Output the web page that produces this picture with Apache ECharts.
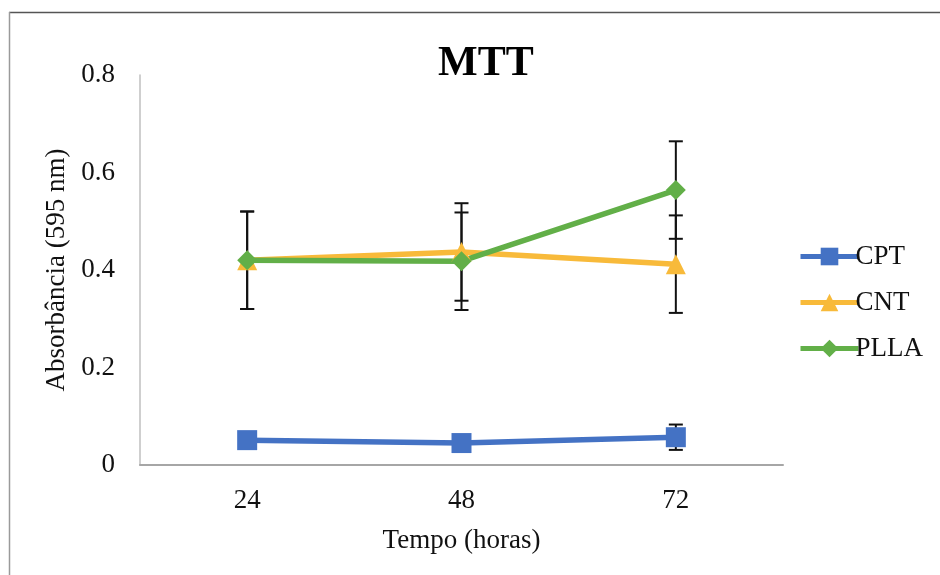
<!DOCTYPE html>
<html>
<head>
<meta charset="utf-8">
<script src="https://cdn.jsdelivr.net/npm/echarts@6/dist/echarts.min.js"></script>
<style>
  html, body { margin: 0; padding: 0; background: #fff; }
  #main { width: 940px; height: 575px; }
</style>
</head>
<body>
<div id="main"></div>
<script>
  // data
  const categories = ['24', '48', '72']
  const cpt = [0.051, 0.045, 0.057]
  const cnt = [0.420, 0.437, 0.412]
  const plla = [0.420, 0.418, 0.564]
  const cptErr = [0.008, 0.008, 0.026]
  const cntErr = [0.100, 0.100, 0.100]
  const pllaErr = [0.100, 0.100, 0.100]

  const font = 'Liberation Serif, Times New Roman, serif'
  const colors = { cpt: '#4472C4', cnt: '#F8BA3A', plla: '#62AF48' }

  function errData(vals, errs) {
    return vals.map((v, i) => [i, v, errs[i]])
  }

  function renderErr(params, api) {
    const i = api.value(0)
    const v = api.value(1)
    const e = api.value(2)
    const top = api.coord([i, v + e])
    const bot = api.coord([i, v - e])
    const cap = 7
    const style = { stroke: '#111', lineWidth: 2 }
    return {
      type: 'group',
      children: [
        { type: 'line', shape: { x1: top[0], y1: top[1], x2: bot[0], y2: bot[1] }, style },
        { type: 'line', shape: { x1: top[0] - cap, y1: top[1], x2: top[0] + cap, y2: top[1] }, style },
        { type: 'line', shape: { x1: bot[0] - cap, y1: bot[1], x2: bot[0] + cap, y2: bot[1] }, style }
      ]
    }
  }

  function errSeries(vals, errs) {
    return {
      type: 'custom',
      renderItem: renderErr,
      data: errData(vals, errs),
      z: 1,
      silent: true,
      encode: { x: 0, y: 1 }
    }
  }

  function lineSeries(name, data, color, symbol, size) {
    return {
      name: name,
      type: 'line',
      data: data,
      symbol: symbol,
      symbolSize: size,
      z: 3,
      itemStyle: { color: color, opacity: 1 },
      lineStyle: { color: color, width: 5.5 }
    }
  }

  const myChart = echarts.init(document.getElementById('main'))
  const option = {
    animation: false,
    backgroundColor: '#fff',
    graphic: [
      { type: 'line', shape: { x1: 9, y1: 12.5, x2: 940, y2: 12.5 }, style: { stroke: '#555', lineWidth: 1.5 }, silent: true },
      { type: 'line', shape: { x1: 9.5, y1: 12, x2: 9.5, y2: 575 }, style: { stroke: '#9a9a9a', lineWidth: 1.5 }, silent: true }
    ],
    title: {
      text: 'MTT',
      left: 433,
      top: 38,
      textStyle: { fontFamily: font, fontSize: 42, fontWeight: 'bold', color: '#000' }
    },
    legend: {
      orient: 'vertical',
      left: 793,
      top: 238,
      itemWidth: 58,
      itemHeight: 22,
      itemGap: 19,
      data: ['CPT', 'CNT', 'PLLA'],
      lineStyle: { width: 5 },
      textStyle: { fontFamily: font, fontSize: 27, lineHeight: 22, color: '#111', padding: [0, 0, 0, -8] }
    },
    grid: { left: 140, right: 157, top: 75, bottom: 110 },
    xAxis: {
      type: 'category',
      data: categories,
      name: 'Tempo (horas)',
      nameLocation: 'middle',
      nameGap: 62,
      nameTextStyle: { fontFamily: font, fontSize: 27, color: '#111' },
      axisLine: { lineStyle: { color: '#a6a6a6', width: 2 } },
      axisTick: { show: false },
      axisLabel: { fontFamily: font, fontSize: 27, color: '#111', margin: 22 }
    },
    yAxis: {
      type: 'value',
      min: 0,
      max: 0.8,
      interval: 0.2,
      name: 'Absorbância (595 nm)',
      nameLocation: 'middle',
      nameGap: 66,
      nameTextStyle: { fontFamily: font, fontSize: 27, color: '#111' },
      axisLine: { show: true, lineStyle: { color: '#bfbfbf', width: 1.5 } },
      axisTick: { show: false },
      splitLine: { show: false },
      axisLabel: { fontFamily: font, fontSize: 27, color: '#111', margin: 25 }
    },
    series: [
      errSeries(cpt, cptErr),
      errSeries(cnt, cntErr),
      errSeries(plla, pllaErr),
      lineSeries('CPT', cpt, colors.cpt, 'rect', 20),
      lineSeries('CNT', cnt, colors.cnt, 'triangle', 20),
      lineSeries('PLLA', plla, colors.plla, 'diamond', 20)
    ]
  }
  myChart.setOption(option)
</script>
</body>
</html>
